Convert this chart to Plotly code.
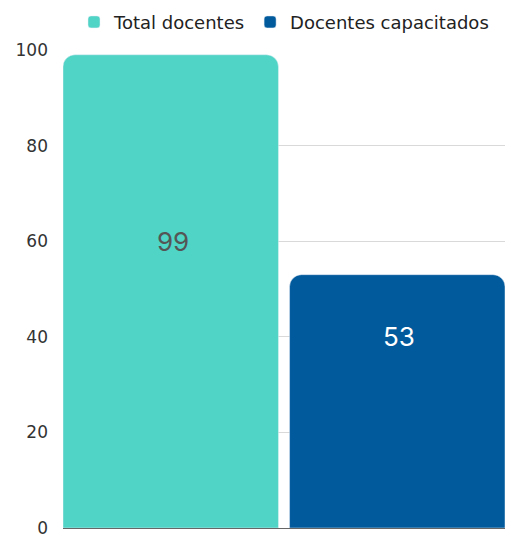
import plotly.graph_objects as go

series_names = ["Total docentes", "Docentes capacitados"]
total_docentes = [99]
docentes_capacitados = [53]
y_ticks = [0, 20, 40, 60, 80, 100]

colors = ["#4fd4c5", "#005a9c"]
label_colors = ["#555555", "#ffffff"]
label_heights = [60, 40]  # where the value labels sit inside the bars

fig = go.Figure()
for name, values, color in zip(series_names, [total_docentes, docentes_capacitados], colors):
    fig.add_trace(go.Bar(x=[name], y=values, name=name, marker_color=color))

for name, values, lc, ly in zip(
    series_names, [total_docentes, docentes_capacitados], label_colors, label_heights
):
    fig.add_annotation(
        x=name,
        y=ly,
        text=str(values[0]),
        showarrow=False,
        xshift=2,
        font=dict(family="Inter", size=26, color=lc),
    )

fig.update_layout(
    width=507,
    height=534,
    barmode="overlay",
    bargap=0.049,
    barcornerradius=12,
    plot_bgcolor="white",
    paper_bgcolor="white",
    font=dict(family="DejaVu Sans", size=16, color="#333333"),
    margin=dict(l=63, r=2, t=50, b=6, autoexpand=False),
    legend=dict(
        orientation="h",
        x=0.5,
        xanchor="center",
        xref="paper",
        y=0.993,
        yanchor="top",
        yref="container",
        itemwidth=30,
        font=dict(size=18, color="#222222"),
    ),
    xaxis=dict(
        range=[-0.4755, 1.4755],
        showticklabels=False,
        showgrid=False,
        zeroline=False,
        showline=True,
        linecolor="#666666",
        linewidth=1,
    ),
    yaxis=dict(
        range=[0, 100],
        tickvals=y_ticks,
        showgrid=True,
        gridcolor="#d9d9d9",
        zeroline=False,
        ticks="",
        automargin=False,
        ticklabeloverflow="allow",
        ticklabelstandoff=14,
        tickfont=dict(size=17, color="#333333"),
    ),
)

fig.write_html(
    "out.html",
    config={"displayModeBar": False},
    post_script="document.body.style.margin='0';document.body.style.overflow='hidden';",
)
